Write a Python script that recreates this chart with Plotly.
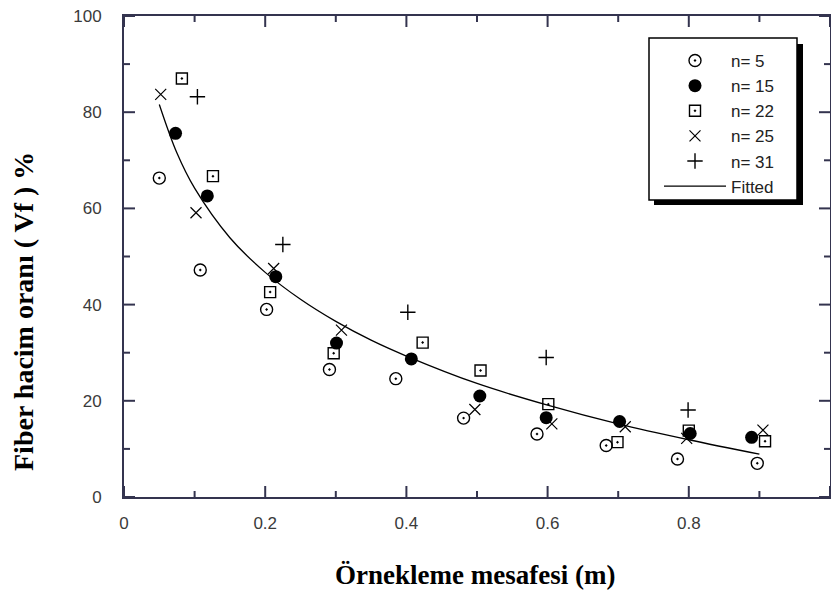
import plotly.graph_objects as go

# ---- data ----
x_n5 = [0.050, 0.108, 0.202, 0.291, 0.385, 0.481, 0.585, 0.683, 0.784, 0.897]
y_n5 = [66.3, 47.2, 39.0, 26.5, 24.6, 16.4, 13.1, 10.7, 7.9, 7.0]
x_n15 = [0.073, 0.118, 0.215, 0.301, 0.407, 0.504, 0.598, 0.702, 0.802, 0.889]
y_n15 = [75.6, 62.6, 45.8, 32.0, 28.7, 21.0, 16.5, 15.7, 13.2, 12.4]
x_n22 = [0.082, 0.126, 0.207, 0.297, 0.423, 0.505, 0.601, 0.699, 0.800, 0.908]
y_n22 = [87.0, 66.7, 42.6, 29.9, 32.1, 26.3, 19.3, 11.4, 13.8, 11.6]
x_n25 = [0.052, 0.102, 0.212, 0.308, 0.497, 0.606, 0.710, 0.797, 0.905]
y_n25 = [83.7, 59.1, 47.5, 34.7, 18.2, 15.2, 14.6, 12.2, 13.9]
x_n31 = [0.104, 0.225, 0.402, 0.598, 0.799]
y_n31 = [83.2, 52.5, 38.4, 29.0, 18.1]
x_fit = [0.05, 0.075, 0.1, 0.15, 0.2, 0.25, 0.3, 0.35, 0.4, 0.5, 0.6, 0.7, 0.8, 0.9]
y_fit = [81.6, 71.5, 64.2, 53.9, 46.7, 41.1, 36.5, 32.6, 29.3, 23.6, 19.1, 15.2, 11.9, 8.9]

x_major = [0, 0.2, 0.4, 0.6, 0.8, 1.0]
x_minor = [0.1, 0.3, 0.5, 0.7, 0.9]
y_major = [0, 20, 40, 60, 80, 100]
y_minor = [10, 30, 50, 70, 90]

x_title = "Örnekleme mesafesi (m)"
y_title = "Fiber hacim oranı ( Vf ) %"

W, H = 831, 597
L, R, T, B = 124, 1, 16, 100
PW, PH = W - L - R, H - T - B


def px2paper(px, py):
    return (px - L) / PW, (H - B - py) / PH


fig = go.Figure()
mk_line = dict(color="black", width=1.4)
fig.add_trace(go.Scatter(x=x_n5, y=y_n5, mode="markers", name="n= 5",
                         marker=dict(symbol="circle-open-dot", size=12, color="black", line=mk_line)))
fig.add_trace(go.Scatter(x=x_n15, y=y_n15, mode="markers", name="n= 15",
                         marker=dict(symbol="circle", size=13, color="black", line=dict(color="black", width=0))))
fig.add_trace(go.Scatter(x=x_n22, y=y_n22, mode="markers", name="n= 22",
                         marker=dict(symbol="square-open-dot", size=11, color="black", line=mk_line)))
fig.add_trace(go.Scatter(x=x_n25, y=y_n25, mode="markers", name="n= 25",
                         marker=dict(symbol="x-thin-open", size=11, color="black", line=dict(color="black", width=1.2))))
fig.add_trace(go.Scatter(x=x_n31, y=y_n31, mode="markers", name="n= 31",
                         marker=dict(symbol="cross-thin-open", size=11, color="black", line=dict(color="black", width=1.4))))
fig.add_trace(go.Scatter(x=x_fit, y=y_fit, mode="lines", name="Fitted",
                         line=dict(color="black", width=1.3, shape="spline")))

axcol = "#34344f"
tickfont = dict(family="Liberation Sans, Arial, sans-serif", size=17, color="#3a3a3a")
common = dict(showline=True, linecolor=axcol, linewidth=2, mirror=True,
              ticks="inside", ticklen=11, tickwidth=2, tickcolor="rgba(0,0,0,0)",
              showgrid=False, zeroline=False, automargin=False, tickfont=tickfont)
fig.update_xaxes(range=[0, 1], tickmode="array", tickvals=x_major,
                 ticktext=[f"{v:g}" for v in x_major], ticklabelstandoff=10, **common)
fig.update_yaxes(range=[0, 100], tickmode="array", tickvals=y_major,
                 ticktext=[f"{v:g}" for v in y_major], ticklabelstandoff=17, **common)

# tick marks on all four sides, placed through the axis scales
tick_line = dict(color=axcol, width=2)
for vals, ln in ((x_major, 11), (x_minor, 6)):
    for v in vals:
        fig.add_shape(type="line", xref="x", yref="paper", ysizemode="pixel", yanchor=0,
                      x0=v, x1=v, y0=0, y1=ln, line=tick_line)
        fig.add_shape(type="line", xref="x", yref="paper", ysizemode="pixel", yanchor=1,
                      x0=v, x1=v, y0=0, y1=-ln, line=tick_line)
for vals, ln in ((y_major, 11), (y_minor, 6)):
    for v in vals:
        fig.add_shape(type="line", yref="y", xref="paper", xsizemode="pixel", xanchor=0,
                      y0=v, y1=v, x0=0, x1=ln, line=tick_line)
        fig.add_shape(type="line", yref="y", xref="paper", xsizemode="pixel", xanchor=1,
                      y0=v, y1=v, x0=0, x1=-ln, line=tick_line)

# legend box with drop shadow
sx0, sy0 = px2paper(654, 44)
sx1, sy1 = px2paper(803, 205)
fig.add_shape(type="rect", xref="paper", yref="paper", x0=sx0, y0=sy1, x1=sx1, y1=sy0,
              fillcolor="black", line=dict(width=0), layer="above")
bx0, by0 = px2paper(649, 38)
bx1, by1 = px2paper(797, 200)
fig.add_shape(type="rect", xref="paper", yref="paper", x0=bx0, y0=by1, x1=bx1, y1=by0,
              fillcolor="white", line=dict(color="black", width=1.5), layer="above")

lx, ly = px2paper(659, 43)

tx, ty = px2paper(23, 312)
xx, xy = px2paper(475, 575)
titlefont = dict(family="Liberation Serif, Times New Roman, serif", size=28, color="black", weight="bold")
fig.add_annotation(text=y_title, xref="paper", yref="paper", x=tx, y=ty, showarrow=False,
                   textangle=-90, xanchor="center", yanchor="middle", font=titlefont)
fig.add_annotation(text=x_title, xref="paper", yref="paper", x=xx, y=xy, showarrow=False,
                   xanchor="center", yanchor="middle", font=dict(titlefont, size=27))

fig.update_layout(
    width=W, height=H, margin=dict(l=L, r=R, t=T, b=B, autoexpand=False),
    paper_bgcolor="white", plot_bgcolor="white",
    showlegend=True,
    legend=dict(x=lx, y=ly, xanchor="left", yanchor="top", bgcolor="rgba(0,0,0,0)",
                borderwidth=0, itemwidth=62,
                font=dict(family="Liberation Sans, Arial, sans-serif", size=17, color="#222"),
                tracegroupgap=0),
)
fig.write_html("out.html", config={"displayModeBar": False},
               post_script="document.body.style.margin='0px';")
